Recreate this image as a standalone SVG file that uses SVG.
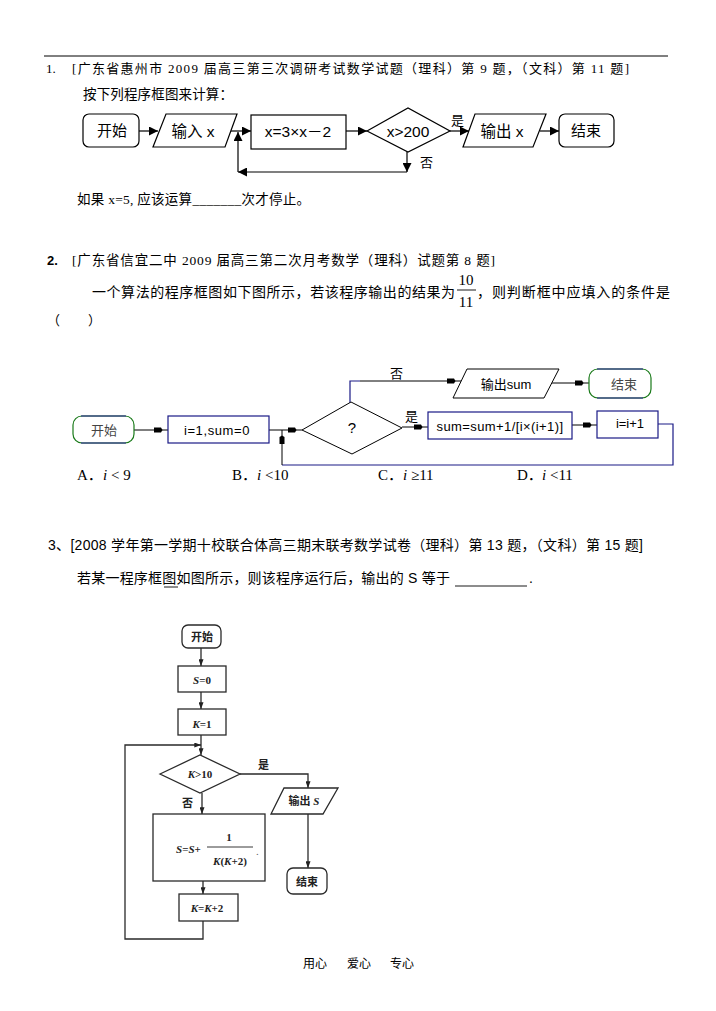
<svg xmlns="http://www.w3.org/2000/svg" width="716" height="1011" viewBox="0 0 716 1011">
<defs>
<style>
.t{font-family:"Liberation Serif","Noto Sans CJK SC",serif;fill:#000}
.s{font-family:"Liberation Sans","Noto Sans CJK SC",sans-serif;fill:#000}
.c{text-anchor:middle}
.l1{fill:none;stroke:#000;stroke-width:1.2}
.n1{fill:#fff;stroke:#000;stroke-width:1.2}
.l2{fill:none;stroke:#000;stroke-width:1}
.b2{fill:none;stroke:#1a1a86;stroke-width:1.2}
.g2{fill:none;stroke:#1a7a1a;stroke-width:1.2}
.l3{fill:none;stroke:#2a2a2a;stroke-width:1.3}
.t3{font-family:"Liberation Serif","Noto Sans CJK SC",serif;fill:#222;font-weight:bold;font-size:11px}
</style>
<marker id="a1" viewBox="0 0 10 10" refX="10" refY="5" markerWidth="9" markerHeight="9" markerUnits="userSpaceOnUse" orient="auto"><path d="M0,0 L10,5 L0,10 z" fill="#000"/></marker>
<marker id="a2" viewBox="0 -4 14 8" refX="14" refY="0" markerWidth="14" markerHeight="8" markerUnits="userSpaceOnUse" orient="auto"><path d="M0,-2.5 L7,-2.5 L8.5,0 L7,2.5 L0,2.5 z" fill="#000"/></marker>
<marker id="a3" viewBox="0 0 8 6" refX="8" refY="3" markerWidth="7" markerHeight="5" markerUnits="userSpaceOnUse" orient="auto"><path d="M0,0 L8,3 L0,6 z" fill="#222"/></marker>
</defs>
<rect width="716" height="1011" fill="#fff"/>
<line x1="44" y1="56" x2="668" y2="56" stroke="#000" stroke-width="1"/>

<!-- Section 1 text -->
<g id="text1">
<text class="t" x="46" y="73" font-size="13">1.</text>
<text class="t" x="72" y="73" font-size="13" textLength="557" lengthAdjust="spacing">[广东省惠州市 2009 届高三第三次调研考试数学试题（理科）第 9 题，（文科）第 11 题]</text>
<text class="t" x="83" y="99" font-size="13.5" textLength="150" lengthAdjust="spacing">按下列程序框图来计算：</text>
<text class="t" x="77" y="204" font-size="13.5" textLength="233" lengthAdjust="spacing">如果 x=5, 应该运算_______次才停止。</text>
</g>

<!-- Flowchart 1 -->
<g id="fc1-connectors">
<line class="l1" x1="139" y1="131" x2="158" y2="131" marker-end="url(#a1)"/>
<line class="l1" x1="231" y1="131" x2="251" y2="131" marker-end="url(#a1)"/>
<line class="l1" x1="346" y1="131" x2="367" y2="131" marker-end="url(#a1)"/>
<line class="l1" x1="450" y1="131" x2="469" y2="131" marker-end="url(#a1)"/>
<line class="l1" x1="540" y1="131" x2="559" y2="131" marker-end="url(#a1)"/>
<line class="l1" x1="407" y1="152" x2="407" y2="172" marker-end="url(#a1)"/>
<line class="l1" x1="407" y1="172" x2="238" y2="172" marker-end="url(#a1)"/>
<line class="l1" x1="238" y1="172" x2="238" y2="132" marker-end="url(#a1)"/>
<text class="s" x="451" y="125" font-size="13">是</text>
<text class="s" x="420" y="167" font-size="13">否</text>
</g>
<g id="fc1-start"><rect class="n1" x="83" y="114" width="56" height="33" rx="6"/><text class="s c" x="112" y="136" font-size="15">开始</text></g>
<g id="fc1-input"><polygon class="n1" points="166,114 237,114 225,147 153,147"/><text class="s c" x="193" y="137" font-size="15.5">输入 x</text></g>
<g id="fc1-proc"><rect class="n1" x="251" y="115" width="95" height="34"/><text class="s c" x="298" y="137" font-size="15.5">x=3×x－2</text></g>
<g id="fc1-dec"><polygon class="n1" points="367,131 408,108 450,131 408,152"/><text class="s c" x="408" y="137" font-size="15.5">x&gt;200</text></g>
<g id="fc1-output"><polygon class="n1" points="475,114 546,114 533,147 463,147"/><text class="s c" x="502" y="137" font-size="15.5">输出 x</text></g>
<g id="fc1-end"><rect class="n1" x="559" y="114" width="55" height="33" rx="6"/><text class="s c" x="586" y="136" font-size="15">结束</text></g>

<!-- Section 2 text -->
<g id="text2">
<text x="47" y="265" font-size="13" font-family="Liberation Sans,sans-serif" font-weight="bold">2.</text>
<text class="t" x="72" y="265" font-size="13.5" textLength="423" lengthAdjust="spacing">[广东省信宜二中 2009 届高三第二次月考数学（理科）试题第 8 题]</text>
<text class="t" x="92" y="297" font-size="14" textLength="363" lengthAdjust="spacing">一个算法的程序框图如下图所示，若该程序输出的结果为</text>
<text class="t c" x="466" y="285" font-size="15">10</text>
<line x1="457" y1="290" x2="476" y2="290" stroke="#000" stroke-width="0.9"/>
<text class="t c" x="466" y="307" font-size="15">11</text>
<text class="t" x="477" y="297" font-size="14" textLength="193" lengthAdjust="spacing">，则判断框中应填入的条件是</text>
<text class="t" x="47" y="325" font-size="13">（</text>
<text class="t" x="88" y="325" font-size="13">）</text>
<text class="t" x="77" y="480" font-size="15">A．</text><text class="t" x="103" y="480" font-size="15"><tspan font-style="italic">i</tspan> &lt; 9</text>
<text class="t" x="232" y="480" font-size="15">B．</text><text class="t" x="257" y="480" font-size="15"><tspan font-style="italic">i</tspan> &lt;10</text>
<text class="t" x="378" y="480" font-size="15">C．</text><text class="t" x="403" y="480" font-size="15"><tspan font-style="italic">i</tspan> ≥11</text>
<text class="t" x="517" y="480" font-size="15">D．</text><text class="t" x="542" y="480" font-size="15"><tspan font-style="italic">i</tspan> &lt;11</text>
</g>

<!-- Flowchart 2 -->
<g id="fc2-connectors">
<line class="l2" x1="134" y1="430" x2="168" y2="430" marker-end="url(#a2)"/>
<line class="l2" x1="269" y1="430" x2="302" y2="430" marker-end="url(#a2)"/>
<polyline class="b2" points="350,403 350,381 360,381"/>
<line class="l2" x1="360" y1="381" x2="461" y2="381" marker-end="url(#a2)"/>
<line class="l2" x1="551" y1="383" x2="589" y2="383" marker-end="url(#a2)"/>
<line class="l2" x1="402" y1="427" x2="428" y2="427" marker-end="url(#a2)"/>
<line class="l2" x1="572" y1="425" x2="597" y2="425" marker-end="url(#a2)"/>
<polyline class="b2" points="658,424 673,424 673,465 282,465"/>
<line class="l2" x1="282" y1="465" x2="282" y2="430" marker-end="url(#a2)"/>
<text class="t" x="390" y="378" font-size="13">否</text>
<text class="t" x="405" y="421" font-size="13">是</text>
</g>
<g id="fc2-start">
<rect class="g2" x="73" y="416" width="61" height="27" rx="9"/>
<line class="b2" x1="81" y1="416" x2="126" y2="416"/><line class="b2" x1="81" y1="443" x2="126" y2="443"/>
<text class="s c" x="104" y="435" font-size="13" fill="#444" style="fill:#444">开始</text>
</g>
<g id="fc2-init"><rect class="b2" x="168" y="416" width="101" height="27"/><text class="s c" x="217" y="435" font-size="13" letter-spacing="0.6">i=1,sum=0</text></g>
<g id="fc2-dec"><polygon fill="#fff" stroke="#000" stroke-width="1" points="302,430 351,402 402,428 352,454"/><text class="s c" x="352" y="433" font-size="15">?</text></g>
<g id="fc2-out"><polygon fill="#fff" stroke="#000" stroke-width="1" points="467,369 559,369 544,398 453,398"/><text class="s c" x="506" y="389" font-size="13">输出sum</text></g>
<g id="fc2-end">
<rect class="g2" x="589" y="369" width="62" height="29" rx="9"/>
<line class="b2" x1="597" y1="369" x2="643" y2="369"/><line class="b2" x1="597" y1="398" x2="643" y2="398"/>
<text class="s c" x="624" y="389" font-size="13" style="fill:#444">结束</text>
</g>
<g id="fc2-sum"><rect class="b2" x="428" y="412" width="144" height="27"/><text class="s c" x="500" y="431" font-size="13" letter-spacing="0.4">sum=sum+1/[i×(i+1)]</text></g>
<g id="fc2-inc"><rect class="b2" x="597" y="411" width="61" height="27"/><text class="s c" x="630" y="428" font-size="13">i=i+1</text></g>

<!-- Section 3 text -->
<g id="text3">
<text class="s" x="48" y="550" font-size="14" textLength="595" lengthAdjust="spacing">3、[2008 学年第一学期十校联合体高三期末联考数学试卷（理科）第 13 题，（文科）第 15 题]</text>
<text class="s" x="77" y="583" font-size="14" textLength="373" lengthAdjust="spacing">若某一程序框图如图所示，则该程序运行后，输出的 S 等于</text>
<line x1="164" y1="587" x2="178" y2="587" stroke="#000" stroke-width="0.9"/>
<line x1="455" y1="586" x2="527" y2="586" stroke="#000" stroke-width="0.9"/>
<text class="s" x="529" y="583" font-size="14">.</text>
</g>

<!-- Flowchart 3 -->
<g id="fc3-connectors">
<line class="l3" x1="201" y1="648" x2="201" y2="666" marker-end="url(#a3)"/>
<line class="l3" x1="201" y1="692" x2="201" y2="709" marker-end="url(#a3)"/>
<line class="l3" x1="201" y1="735" x2="201" y2="755" marker-end="url(#a3)"/>
<polyline class="l3" points="240,774 308,774 308,788" marker-end="url(#a3)"/>
<line class="l3" x1="308" y1="814" x2="308" y2="868" marker-end="url(#a3)"/>
<line class="l3" x1="202" y1="793" x2="202" y2="814" marker-end="url(#a3)"/>
<line class="l3" x1="203" y1="881" x2="203" y2="894" marker-end="url(#a3)"/>
<polyline class="l3" points="203,921 203,939 125,939 125,745 201,745" marker-end="url(#a3)"/>
<text class="t3" x="258" y="769">是</text>
<text class="t3" x="182" y="807">否</text>
</g>
<g id="fc3-start"><rect class="l3" x="182" y="625" width="39" height="23" rx="6"/><text class="t3 c" x="202" y="641">开始</text></g>
<g id="fc3-s0"><rect class="l3" x="178" y="666" width="48" height="26"/><text class="t3 c" x="202" y="684"><tspan font-style="italic">S</tspan>=0</text></g>
<g id="fc3-k1"><rect class="l3" x="178" y="709" width="48" height="26"/><text class="t3 c" x="202" y="728"><tspan font-style="italic">K</tspan>=1</text></g>
<g id="fc3-dec"><polygon class="l3" points="160,774 200,755 240,774 200,793"/><text class="t3 c" x="200" y="778"><tspan font-style="italic">K</tspan>&gt;10</text></g>
<g id="fc3-out"><polygon class="l3" points="284,788 338,788 323,814 271,814"/><text class="t3 c" x="304" y="805">输出 <tspan font-style="italic">S</tspan></text></g>
<g id="fc3-end"><rect class="l3" x="287" y="868" width="40" height="26" rx="6"/><text class="t3 c" x="307" y="886">结束</text></g>
<g id="fc3-sum">
<rect class="l3" x="153" y="814" width="112" height="67"/>
<text class="t3" x="176" y="853"><tspan font-style="italic">S</tspan>=<tspan font-style="italic">S</tspan>+</text>
<text class="t3 c" x="229" y="841">1</text>
<line x1="207" y1="847" x2="253" y2="847" stroke="#222" stroke-width="0.9"/>
<text class="t3 c" x="230" y="865"><tspan font-style="italic">K</tspan>(<tspan font-style="italic">K</tspan>+2)</text>
<text class="t3" x="256" y="855" style="font-weight:normal;fill:#666">.</text>
</g>
<g id="fc3-k2"><rect class="l3" x="179" y="894" width="59" height="27"/><text class="t3 c" x="207" y="912"><tspan font-style="italic">K</tspan>=<tspan font-style="italic">K</tspan>+2</text></g>

<!-- Footer -->
<text class="t" x="303" y="968" font-size="12">用心<tspan x="347">爱心</tspan><tspan x="390">专心</tspan></text>
</svg>
